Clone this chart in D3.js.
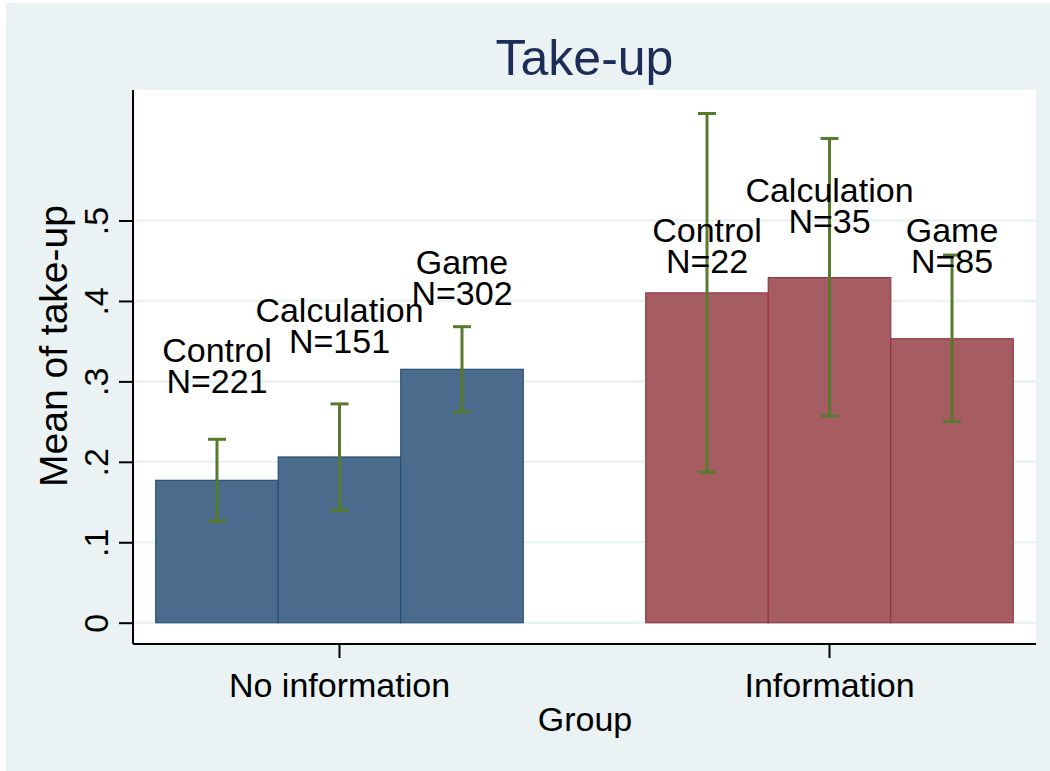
<!DOCTYPE html>
<html>
<head>
<meta charset="utf-8">
<script src="https://cdn.jsdelivr.net/npm/d3@7"></script>
<style>
  body { margin: 0; background: #ffffff; }
  svg { display: block; font-family: "Liberation Sans", Arial, sans-serif; }
</style>
</head>
<body>
<svg id="chart" width="1050" height="771"></svg>
<script>
const groups = ['No information', 'Information'];
const treatments = ['Control', 'Calculation', 'Game'];
// mean of take-up per group, by treatment
const meanNoInfo = [0.177, 0.206, 0.315];
const meanInfo = [0.410, 0.429, 0.353];
// 95% CI bounds
const lowNoInfo = [0.126, 0.140, 0.262];
const highNoInfo = [0.228, 0.272, 0.368];
const lowInfo = [0.187, 0.257, 0.250];
const highInfo = [0.633, 0.602, 0.457];
const nNoInfo = [221, 151, 302];
const nInfo = [22, 35, 85];
// where the "N=" line of each label sits, in take-up units
const labelAtNoInfo = [0.286, 0.335, 0.395];
const labelAtInfo = [0.435, 0.485, 0.435];
const yTicks = [0, 0.1, 0.2, 0.3, 0.4, 0.5];

const rows = [];
groups.forEach((g, gi) => {
    treatments.forEach((t, ti) => {
        rows.push({
            group: g, treat: t,
            mean: gi === 0 ? meanNoInfo[ti] : meanInfo[ti],
            lo: gi === 0 ? lowNoInfo[ti] : lowInfo[ti],
            hi: gi === 0 ? highNoInfo[ti] : highInfo[ti],
            n: gi === 0 ? nNoInfo[ti] : nInfo[ti],
            labelAt: gi === 0 ? labelAtNoInfo[ti] : labelAtInfo[ti]
        });
    });
});

const W = 1050, H = 771;
const plot = { left: 133, right: 1036, top: 90, bottom: 644 };
const svg = d3.select('#chart');

svg.append('rect').attr('x', 6).attr('y', 3).attr('width', W - 6).attr('height', H - 3).attr('fill', '#eaf2f3');
svg.append('rect').attr('x', plot.left).attr('y', plot.top)
    .attr('width', plot.right - plot.left).attr('height', plot.bottom - plot.top).attr('fill', '#ffffff');

const x0 = d3.scaleBand().domain(groups).range([plot.left, plot.right]).paddingInner(0.25).paddingOuter(0.0464);
const x1 = d3.scaleBand().domain(treatments).range([0, x0.bandwidth()]).padding(0);
const y = d3.scaleLinear().domain([0, 0.5]).range([622.7, 220.5]);

// gridlines
svg.append('g').selectAll('line').data(yTicks).join('line')
    .attr('x1', plot.left).attr('x2', plot.right)
    .attr('y1', d => y(d)).attr('y2', d => y(d))
    .attr('stroke', '#eaf2f3').attr('stroke-width', 2.5);

// bars
const colors = { 'No information': ['#4a6b8b', '#284f77'], 'Information': ['#a55d61', '#933844'] };
svg.append('g').selectAll('rect').data(rows).join('rect')
    .attr('x', d => x0(d.group) + x1(d.treat))
    .attr('y', d => y(d.mean))
    .attr('width', x1.bandwidth())
    .attr('height', d => y(0) - y(d.mean))
    .attr('fill', d => colors[d.group][0])
    .attr('stroke', d => colors[d.group][1])
    .attr('stroke-width', 1.2);

// error bars
const ci = svg.append('g').attr('stroke', '#587a2e').attr('stroke-width', 3);
const cx = d => x0(d.group) + x1(d.treat) + x1.bandwidth() / 2;
ci.selectAll('.stem').data(rows).join('line').attr('class', 'stem')
    .attr('x1', cx).attr('x2', cx).attr('y1', d => y(d.lo)).attr('y2', d => y(d.hi));
ci.selectAll('.caplo').data(rows).join('line').attr('class', 'caplo')
    .attr('x1', d => cx(d) - 9).attr('x2', d => cx(d) + 9).attr('y1', d => y(d.lo)).attr('y2', d => y(d.lo));
ci.selectAll('.caphi').data(rows).join('line').attr('class', 'caphi')
    .attr('x1', d => cx(d) - 9).attr('x2', d => cx(d) + 9).attr('y1', d => y(d.hi)).attr('y2', d => y(d.hi));

// bar labels
const lab = svg.append('g').attr('font-size', 34).attr('text-anchor', 'middle').attr('fill', '#000');
lab.selectAll('.l1').data(rows).join('text').attr('class', 'l1')
    .attr('x', cx).attr('y', d => y(d.labelAt) - 31).text(d => d.treat);
lab.selectAll('.l2').data(rows).join('text').attr('class', 'l2')
    .attr('x', cx).attr('y', d => y(d.labelAt)).text(d => 'N=' + d.n);

// y axis
const yAxis = d3.axisLeft(y).tickValues(yTicks).tickSize(14).tickPadding(0)
    .tickFormat(d => d === 0 ? '0' : d3.format('.1f')(d).replace(/^0/, ''));
const ya = svg.append('g').attr('transform', `translate(${plot.left},0)`).call(yAxis);
ya.select('.domain').attr('d', `M0,${plot.top}V${plot.bottom}`).attr('stroke', '#000').attr('stroke-width', 2);
ya.selectAll('.tick line').attr('stroke', '#000').attr('stroke-width', 2);
ya.selectAll('.tick text')
    .attr('font-size', 34).attr('font-family', '"Liberation Sans", Arial, sans-serif').attr('fill', '#000')
    .attr('text-anchor', 'middle').attr('dy', 0).attr('x', null)
    .attr('transform', 'translate(-25,0) rotate(-90)');

// x axis
const xAxis = d3.axisBottom(x0).tickSize(14).tickPadding(0);
const xa = svg.append('g').attr('transform', `translate(0,${plot.bottom})`).call(xAxis);
xa.select('.domain').attr('d', `M${plot.left},0H${plot.right}`).attr('stroke', '#000').attr('stroke-width', 2);
xa.selectAll('.tick line').attr('stroke', '#000').attr('stroke-width', 2);
xa.selectAll('.tick text')
    .attr('font-size', 34).attr('font-family', '"Liberation Sans", Arial, sans-serif').attr('fill', '#000')
    .attr('dy', 0).attr('y', 52.7);

// titles
svg.append('text').attr('x', (plot.left + plot.right) / 2).attr('y', 75).attr('text-anchor', 'middle')
    .attr('font-size', 50).attr('fill', '#1e2d58').text('Take-up');
svg.append('text').attr('x', 585).attr('y', 731).attr('text-anchor', 'middle')
    .attr('font-size', 34).attr('fill', '#000').text('Group');
svg.append('text').attr('transform', 'translate(67,346) rotate(-90)').attr('text-anchor', 'middle')
    .attr('font-size', 39).attr('fill', '#000').text('Mean of take-up');
</script>
</body>
</html>
